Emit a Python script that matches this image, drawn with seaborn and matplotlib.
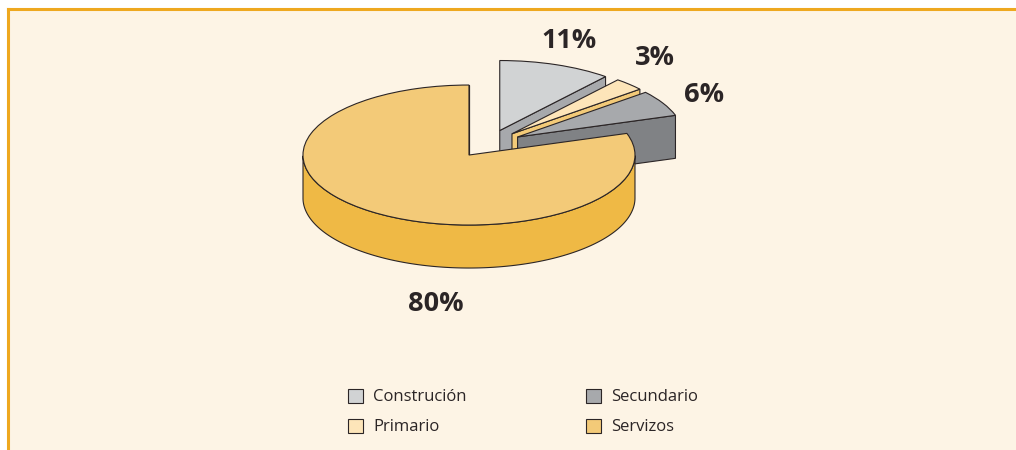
#!/usr/bin/env python
import numpy as np
import seaborn as sns
import matplotlib.pyplot as plt
plt.switch_backend('agg')
from matplotlib.patches import Polygon

### data
categories = ["Construción", "Primario", "Secundario", "Servizos"]
shares = [11, 3, 6, 80]
pct_labels = ["11%", "3%", "6%", "80%"]

### colours: top face and side wall of each slice
top_colors = ["#d1d3d4", "#fde5b9", "#a7a9ac", "#f3ca78"]
wall_colors = ["#a7a9ac", "#f3ca78", "#808285", "#efb945"]
line_color = "#2b2526"
bg_color = "#fdf4e5"
frame_color = "#eea81f"

### layout in pixels of the 1016x450 picture
W, H = 1016, 450
left, top = 7.5, 8.5
cx, cy = 488.5, 143.7   # pie centre before the slices are pulled apart
rx, ry = 166, 70        # size of the flattened pie
depth = 43 / ry
label_xy = [(569, 41), (655, 58), (704, 95), (436, 304)]

sns.set_theme(style="white")
plt.rcParams['font.family'] = ['Open Sans', 'DejaVu Sans']

fig = plt.figure(figsize=(W / 100, H / 100), dpi=100, facecolor="white")
ax = fig.add_axes([left / W, 0, 1 - left / W, 1 - top / H], facecolor=bg_color)

wedges, _ = ax.pie(shares, colors=top_colors, startangle=90, counterclock=False,
                   explode=[0.2] * len(shares), frame=True,
                   wedgeprops=dict(edgecolor=line_color, linewidth=0.8))

# side walls: the top outline pushed down by the depth, back slices first
# only faces turned towards the viewer are drawn
for i, w in enumerate(wedges):
	w.set_zorder(2 * i + 2)
	theta = np.radians(np.linspace(w.theta1, w.theta2, 360))
	x0, y0 = w.center
	rim = np.column_stack([x0 + w.r * np.cos(theta), y0 + w.r * np.sin(theta)])
	apex = np.array([x0, y0])
	shift = np.array([0, depth])
	faces = []
	front = rim[np.sin(theta) <= 0]
	if len(front) > 1:
		faces.append(np.vstack([front, front[::-1] - shift]))
	if np.sin(np.radians(w.theta1 - 90)) < -1e-9:
		faces.append(np.array([apex, rim[0], rim[0] - shift, apex - shift]))
	if np.sin(np.radians(w.theta2 + 90)) < -1e-9:
		faces.append(np.array([apex, rim[-1], rim[-1] - shift, apex - shift]))
	for face in faces:
		ax.add_patch(Polygon(face, closed=True, facecolor=wall_colors[i],
		                     edgecolor=line_color, linewidth=0.8, zorder=2 * i + 1))

# flatten the pie: one unit is rx pixels across and ry pixels down
ax.set_aspect('auto')
ax.set_xlim((left - cx) / rx, (W - cx) / rx)
ax.set_ylim((cy - H) / ry, (cy - top) / ry)
ax.set_xticks([])
ax.set_yticks([])
for side in ['right', 'bottom']:
	ax.spines[side].set_visible(False)
for side in ['top', 'left']:
	ax.spines[side].set_color(frame_color)
	ax.spines[side].set_linewidth(2.2)

for txt, (px, py) in zip(pct_labels, label_xy):
	fig.text(px / W, 1 - py / H, txt, ha='center', va='center', fontsize=19.5,
	         fontweight='bold', color="#2b2526")

leg = ax.legend(wedges, categories, ncol=2, frameon=False, fontsize=12,
                handlelength=0.9, handleheight=0.9, handletextpad=0.6,
                columnspacing=7.12, labelspacing=0.8, labelcolor="#2b2526",
                loc='center', bbox_to_anchor=(523 / W, 1 - 412 / H),
                bbox_transform=fig.transFigure)
leg.set_zorder(20)

plt.savefig("out.png", dpi=100)
plt.close()
